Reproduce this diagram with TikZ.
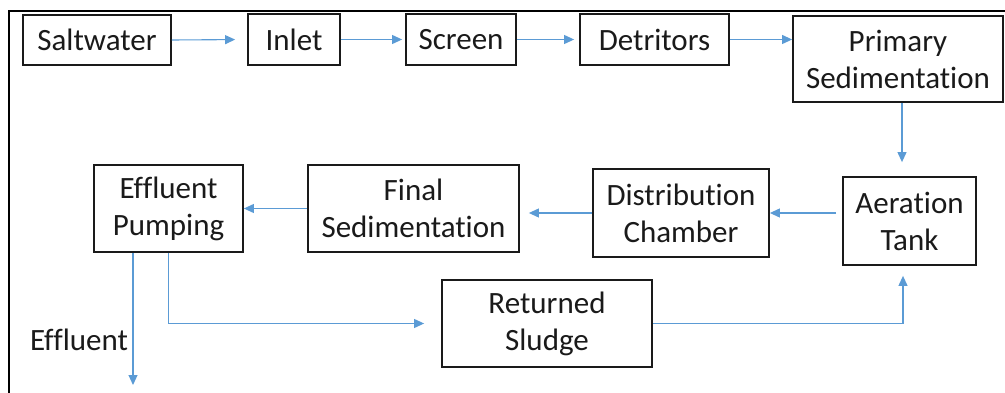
\documentclass[tikz,border=0pt]{standalone}
\usepackage{fontspec}
\setmainfont[RawFeature={-liga}]{Carlito}
\usetikzlibrary{arrows.meta}
\definecolor{flowblue}{HTML}{5B9BD5}
\definecolor{ink}{HTML}{1A1A1A}
\tikzset{
  stage/.style={draw=ink, line width=1.8pt, rectangle, align=center, inner sep=0pt,
    text=ink, font=\fontsize{31}{37}\selectfont},
  flow/.style={draw=flowblue, line width=1.1pt,
    -{Triangle[length=10pt,width=9pt]}},
}
\begin{document}
\begin{tikzpicture}[x=1pt,y=-1pt]
\useasboundingbox (0,0) rectangle (1005,393);
% outer frame (left and top edges)
\draw[line width=2pt, black] (9,393) -- (9,11) -- (1005,11);

% process stages
\node[stage, minimum width=148pt, minimum height=50pt] (salt)   at (97,40)      {Saltwater};
\node[stage, minimum width=92pt,  minimum height=51pt] (inlet)  at (294,39.5)   {Inlet};
\node[stage, minimum width=110pt, minimum height=51pt] (screen) at (461,39.5)   {Screen};
\node[stage, minimum width=149pt, minimum height=51pt] (detr)   at (654.5,39.5) {Detritors};
\node[stage, minimum width=210pt, minimum height=86pt] (prim)   at (898,59)     {Primary\\Sedimentation};
\node[stage, minimum width=133pt, minimum height=88pt] (aer)    at (909.5,221)  {Aeration\\Tank};
\node[stage, minimum width=176pt, minimum height=88pt] (dist)   at (681,213)    {Distribution\\Chamber};
\node[stage, minimum width=211pt, minimum height=87pt] (fin)    at (413.5,208.5){Final\\Sedimentation};
\node[stage, minimum width=149pt, minimum height=87pt] (eff)    at (168.5,208.5){Effluent\\Pumping};
\node[stage, minimum width=210pt, minimum height=87pt] (ret)    at (547,323.5)  {Returned\\Sludge};

\node[text=ink, font=\fontsize{31}{37}\selectfont, inner sep=0pt] (efflabel) at (79,340) {Effluent};
\coordinate (effout) at (133,385);

% connectors
\draw[flow, shorten >=12pt] (salt.east) -- (inlet.west);
\draw[flow, shorten >=3pt] (inlet.east) -- (screen.west);
\draw[flow, shorten >=5pt] (screen.east) -- (detr.west);
\draw[flow] (detr.east) -- (detr.east -| prim.west);
\draw[flow, shorten >=14pt] ([xshift=4pt]prim.south) -- ([xshift=4pt]prim.south |- aer.north);
\draw[flow, shorten <=6pt] (dist.east -| aer.west) -- (dist.east);
\draw[flow, shorten >=9pt] (dist.west) -- (dist.west -| fin.east);
\draw[flow] (fin.west) -- (fin.west -| eff.east);
\draw[flow] (effout |- eff.south) -- (effout);
\draw[flow, shorten >=17pt] (eff.south) |- (ret.west);
\draw[flow, shorten >=10pt] (ret.east) -| ([xshift=-6.5pt]aer.south);
\end{tikzpicture}
\end{document}
